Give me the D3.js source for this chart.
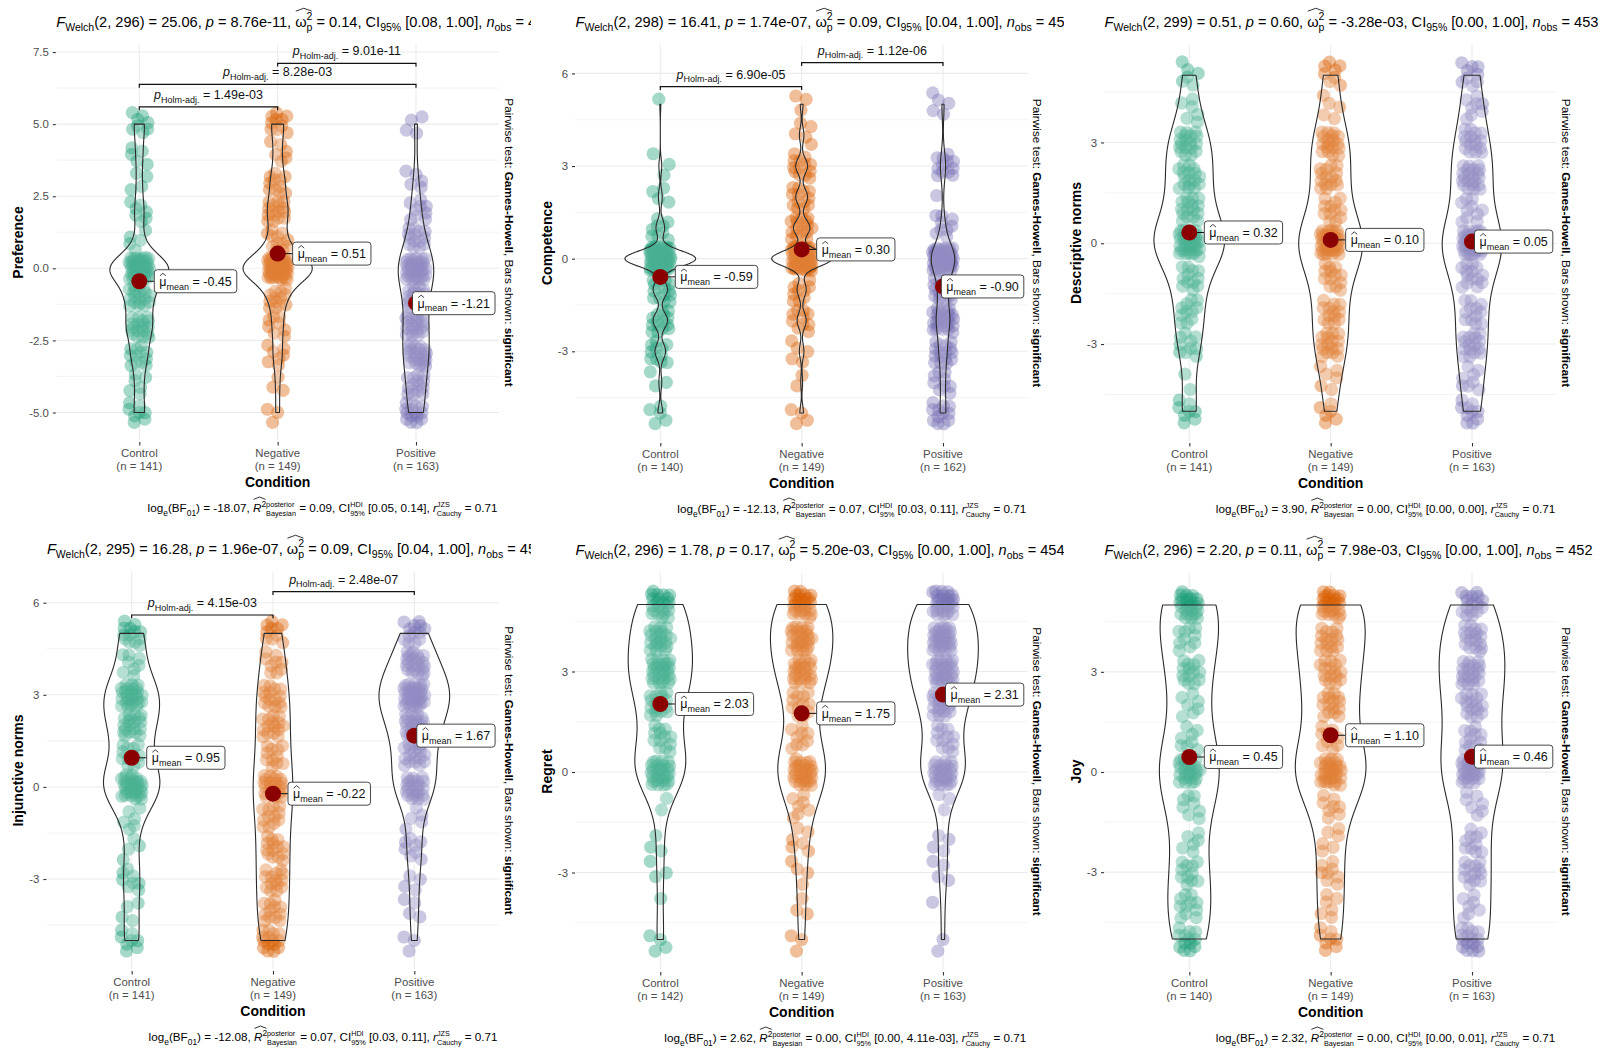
<!DOCTYPE html>
<html>
<head>
<meta charset="utf-8">
<script src="https://cdn.jsdelivr.net/npm/d3@7"></script>
<style>
  html, body { margin: 0; padding: 0; background: #fff; }
  svg { display: block; font-family: "Liberation Sans", Arial, Helvetica, sans-serif; }
  text { white-space: pre; }
</style>
</head>
<body>
<svg id="chart" width="1601" height="1050"></svg>
<script>
// ---------------------------------------------------------------
// Shared categories, response levels and palette
// ---------------------------------------------------------------
const CATEGORIES = ["Control", "Negative", "Positive"];
const LEVELS = [-5, -4, -3, -2, -1, 0, 1, 2, 3, 4, 5];
const PALETTE = ["#1B9E77", "#D95F02", "#7570B3"];

// Number of responses at each level (-5 … 5), per condition
const preferenceControl  = [8, 6, 12, 19, 19, 48, 5, 7, 4, 5, 8];
const preferenceNegative = [3, 3, 7, 8, 13, 60, 12, 16, 11, 6, 10];
const preferencePositive = [15, 15, 23, 21, 18, 39, 14, 9, 5, 0, 4];

const competenceControl  = [5, 3, 11, 15, 15, 74, 9, 4, 3, 0, 1];
const competenceNegative = [4, 2, 5, 10, 10, 66, 18, 13, 13, 5, 3];
const competencePositive = [12, 9, 16, 28, 18, 52, 9, 1, 12, 0, 5];

const descriptiveControl  = [8, 2, 10, 11, 12, 35, 16, 17, 18, 6, 6];
const descriptiveNegative = [6, 6, 16, 13, 13, 37, 12, 15, 18, 5, 8];
const descriptivePositive = [10, 8, 16, 12, 14, 39, 10, 21, 16, 8, 9];

const injunctiveControl  = [8, 4, 8, 4, 6, 32, 12, 19, 27, 8, 13];
const injunctiveNegative = [15, 12, 14, 14, 12, 22, 11, 15, 15, 9, 10];
const injunctivePositive = [3, 4, 4, 8, 5, 23, 18, 24, 38, 23, 13];

const regretControl  = [4, 1, 3, 3, 2, 28, 13, 17, 27, 22, 22];
const regretNegative = [3, 3, 4, 6, 7, 30, 9, 12, 23, 26, 26];
const regretPositive = [2, 1, 4, 4, 3, 27, 12, 22, 30, 31, 27];

const joyControl  = [13, 11, 11, 6, 8, 26, 8, 7, 14, 10, 26];
const joyNegative = [8, 6, 8, 6, 8, 31, 9, 15, 16, 16, 26];
const joyPositive = [16, 7, 13, 10, 7, 27, 12, 16, 21, 18, 16];

// Group means (Control, Negative, Positive)
const preferenceMeans  = [-0.45, 0.51, -1.21];
const competenceMeans  = [-0.59, 0.30, -0.90];
const descriptiveMeans = [0.32, 0.10, 0.05];
const injunctiveMeans  = [0.95, -0.22, 1.67];
const regretMeans      = [2.03, 1.75, 2.31];
const joyMeans         = [0.45, 1.10, 0.46];

// Welch ANOVA: df, F, p, omega squared, CI
const preferenceWelch  = ["2, 296", "25.06", "8.76e-11", "0.14", "[0.08, 1.00]"];
const competenceWelch  = ["2, 298", "16.41", "1.74e-07", "0.09", "[0.04, 1.00]"];
const descriptiveWelch = ["2, 299", "0.51", "0.60", "-3.28e-03", "[0.00, 1.00]"];
const injunctiveWelch  = ["2, 295", "16.28", "1.96e-07", "0.09", "[0.04, 1.00]"];
const regretWelch      = ["2, 296", "1.78", "0.17", "5.20e-03", "[0.00, 1.00]"];
const joyWelch         = ["2, 296", "2.20", "0.11", "7.98e-03", "[0.00, 1.00]"];

// Bayesian ANOVA: log BF01, R2, HDI
const preferenceBayes  = ["-18.07", "0.09", "[0.05, 0.14]"];
const competenceBayes  = ["-12.13", "0.07", "[0.03, 0.11]"];
const descriptiveBayes = ["3.90", "0.00", "[0.00, 0.00]"];
const injunctiveBayes  = ["-12.08", "0.07", "[0.03, 0.11]"];
const regretBayes      = ["2.62", "0.00", "[0.00, 4.11e-03]"];
const joyBayes         = ["2.32", "0.00", "[0.00, 0.01]"];

// Significant Games-Howell comparisons: [group a, group b, Holm-adjusted p]
const preferencePairs = [[0, 1, "1.49e-03"], [0, 2, "8.28e-03"], [1, 2, "9.01e-11"]];
const competencePairs = [[0, 1, "6.90e-05"], [1, 2, "1.12e-06"]];
const injunctivePairs = [[0, 1, "4.15e-03"], [1, 2, "2.48e-07"]];

// Y-axis ticks
const preferenceTicks = [-5, -2.5, 0, 2.5, 5, 7.5];
const preferenceTickLabels = ["-5.0", "-2.5", "0.0", "2.5", "5.0", "7.5"];
const wideTicks = [-3, 0, 3, 6];
const wideTickLabels = ["-3", "0", "3", "6"];
const narrowTicks = [-3, 0, 3];
const narrowTickLabels = ["-3", "0", "3"];

const panels = [
  { ylab: "Preference", groups: [preferenceControl, preferenceNegative, preferencePositive],
    means: preferenceMeans, welch: preferenceWelch, bayes: preferenceBayes, pairs: preferencePairs,
    ticks: preferenceTicks, tickLabels: preferenceTickLabels },
  { ylab: "Competence", groups: [competenceControl, competenceNegative, competencePositive],
    means: competenceMeans, welch: competenceWelch, bayes: competenceBayes, pairs: competencePairs,
    ticks: wideTicks, tickLabels: wideTickLabels },
  { ylab: "Descriptive norms", groups: [descriptiveControl, descriptiveNegative, descriptivePositive],
    means: descriptiveMeans, welch: descriptiveWelch, bayes: descriptiveBayes, pairs: [],
    ticks: narrowTicks, tickLabels: narrowTickLabels },
  { ylab: "Injunctive norms", groups: [injunctiveControl, injunctiveNegative, injunctivePositive],
    means: injunctiveMeans, welch: injunctiveWelch, bayes: injunctiveBayes, pairs: injunctivePairs,
    ticks: wideTicks, tickLabels: wideTickLabels },
  { ylab: "Regret", groups: [regretControl, regretNegative, regretPositive],
    means: regretMeans, welch: regretWelch, bayes: regretBayes, pairs: [],
    ticks: narrowTicks, tickLabels: narrowTickLabels },
  { ylab: "Joy", groups: [joyControl, joyNegative, joyPositive],
    means: joyMeans, welch: joyWelch, bayes: joyBayes, pairs: [],
    ticks: narrowTicks, tickLabels: narrowTickLabels }
];

// ---------------------------------------------------------------
// Layout of each panel (plot box, y range, extra placements)
// ---------------------------------------------------------------
const MINOR_QUARTER = [-3.75, -1.25, 1.25, 3.75, 6.25];
const MINOR_HALF = [-4.5, -1.5, 1.5, 4.5];
const layouts = [
  { left: 56.3,   right: 499,    top: 45,  bottom: 440, lo: -5.955, hi: 7.745, yTitleX: 18.3,   clip: [0, 531],      bracketY: [5.6, 6.38, 7.11], minor: MINOR_QUARTER },
  { left: 575.5,  right: 1027.8, top: 45,  bottom: 441, lo: -5.905, hi: 6.92,  yTitleX: 547.3,  clip: [534, 1064],   bracketY: [5.57, 6.35],      minor: MINOR_HALF },
  { left: 1104.5, right: 1556.8, top: 45,  bottom: 441, lo: -5.885, hi: 5.90,  yTitleX: 1076.3, clip: [1067, 1598],  bracketY: [],                minor: MINOR_HALF },
  { left: 46.9,   right: 499.1,  top: 572, bottom: 969, lo: -5.93,  hi: 7.0,   yTitleX: 18.3,   clip: [0, 531],      bracketY: [5.6, 6.36],       minor: MINOR_HALF },
  { left: 575.5,  right: 1027.8, top: 573, bottom: 970, lo: -5.91,  hi: 5.94,  yTitleX: 547.3,  clip: [534, 1064],   bracketY: [],                minor: MINOR_HALF },
  { left: 1104.5, right: 1556.8, top: 573, bottom: 970, lo: -5.93,  hi: 5.96,  yTitleX: 1076.3, clip: [1067, 1598],  bracketY: [],                minor: MINOR_HALF }
];

const GRID = "#EBEBEB";
const AXIS_TEXT = "#4D4D4D";
const POINT_R = 6.6;
const POINT_ALPHA = 0.4;
const JITTER_X = 0.075;   // fraction of category step (each side)
const JITTER_Y = 0.4;     // response units (each side)
const R2A = 0.7548776662466927, R2B = 0.5698402909980532;  // plastic-number sequence for jitter

const svg = d3.select("#chart");
const defs = svg.append("defs");

// ---------------------------------------------------------------
// Small rich-text layout: italics, bold, sub/superscripts, hats
// ---------------------------------------------------------------
function richText(parent, parts, o) {
  const size = o.size, fill = o.fill || "#000";
  const g = parent.append("g");
  let cx = 0;
  function put(txt, px, py, fs, p) {
    const t = g.append("text")
      .attr("x", px).attr("y", py)
      .attr("font-size", fs).attr("fill", fill)
      .attr("xml:space", "preserve")
      .text(txt);
    if (p.it) t.attr("font-style", "italic");
    if (p.b || o.bold) t.attr("font-weight", "bold");
    return t.node().getComputedTextLength();
  }
  function lay(list) {
    list.forEach(p => {
      if (p.hat) {
        const x0 = cx;
        lay(p.hat);
        const hy = (p.hy != null ? p.hy : -0.92) * size;
        g.append("path")
          .attr("d", `M${x0 + 0.6},${hy}L${(x0 + cx) / 2},${hy - size * 0.2}L${cx - 0.6},${hy}`)
          .attr("fill", "none").attr("stroke", fill).attr("stroke-width", 0.8);
      } else if (p.stack) {
        const fs = size * (p.fs || 0.62);
        const w1 = put(p.stack[0], cx, -size * 0.42, fs, p);
        const w2 = put(p.stack[1], cx, size * 0.3, fs, p);
        cx += Math.max(w1, w2);
      } else {
        const fs = (p.sub || p.sup) ? size * 0.72 : size;
        const dy = p.sub ? size * 0.3 : p.sup ? -size * 0.42 : 0;
        cx += put(p.t, cx, dy, fs, p);
      }
    });
  }
  lay(parts);
  const shift = o.anchor === "end" ? -cx : o.anchor === "middle" ? -cx / 2 : 0;
  g.attr("transform", `translate(${(o.x || 0) + shift},${o.y || 0})`);
  return { g, width: cx };
}

// Gaussian kernel density with Silverman's rule (nrd0)
function nrd0(values) {
  const sd = d3.deviation(values);
  const iqr = d3.quantile(values, 0.75) - d3.quantile(values, 0.25);
  let lo = Math.min(sd, iqr / 1.34);
  if (!(lo > 0)) lo = sd > 0 ? sd : 1;
  return 0.9 * lo * Math.pow(values.length, -0.2);
}
function densityCurve(counts) {
  const values = [];
  counts.forEach((c, i) => { for (let k = 0; k < c; k++) values.push(LEVELS[i]); });
  const n = values.length, bw = nrd0(values);
  const lo = d3.min(values), hi = d3.max(values);
  const grid = d3.range(512).map(i => lo + (hi - lo) * i / 511);
  const norm = 1 / (n * bw * Math.sqrt(2 * Math.PI));
  return grid.map(yv => {
    let s = 0;
    counts.forEach((c, i) => {
      if (!c) return;
      const z = (yv - LEVELS[i]) / bw;
      s += c * Math.exp(-0.5 * z * z);
    });
    return [yv, s * norm];
  });
}

// ---------------------------------------------------------------
// Draw one panel
// ---------------------------------------------------------------
function drawPanel(P, L, pi) {
  const g = svg.append("g");
  const x = d3.scalePoint().domain(CATEGORIES).range([L.left, L.right]).padding(0.6);
  const y = d3.scaleLinear().domain([L.lo, L.hi]).range([L.bottom, L.top]);
  const step = x.step();
  const midY = (L.top + L.bottom) / 2;

  // grid
  const grid = g.append("g");
  grid.selectAll(".minor").data(L.minor.filter(v => v > L.lo && v < L.hi)).join("line")
    .attr("x1", L.left).attr("x2", L.right)
    .attr("y1", d => y(d)).attr("y2", d => y(d))
    .attr("stroke", GRID).attr("stroke-width", 0.6);
  grid.selectAll(".major").data(P.ticks).join("line")
    .attr("x1", L.left).attr("x2", L.right)
    .attr("y1", d => y(d)).attr("y2", d => y(d))
    .attr("stroke", GRID).attr("stroke-width", 1.1);
  grid.selectAll(".vert").data(CATEGORIES).join("line")
    .attr("x1", d => x(d)).attr("x2", d => x(d))
    .attr("y1", L.top).attr("y2", L.bottom)
    .attr("stroke", GRID).attr("stroke-width", 1.1);

  // y axis
  const yAxis = g.append("g").attr("transform", `translate(${L.left - 0.5},0)`)
    .call(d3.axisLeft(y).tickValues(P.ticks).tickFormat((d, i) => P.tickLabels[i]).tickSize(3).tickPadding(4));
  yAxis.select(".domain").remove();
  yAxis.selectAll(".tick line").attr("stroke", "#333").attr("stroke-width", 1.1);
  yAxis.selectAll(".tick text").attr("fill", AXIS_TEXT).attr("font-size", 11.4)
    .attr("font-family", "Liberation Sans, Arial, sans-serif");

  // x axis
  const xAxis = g.append("g").attr("transform", `translate(0,${L.bottom + 2})`)
    .call(d3.axisBottom(x).tickSize(3.5).tickFormat(""));
  xAxis.select(".domain").remove();
  xAxis.selectAll(".tick line").attr("stroke", "#333").attr("stroke-width", 1.1);

  P.groups.forEach((counts, gi) => {
    const cx = x(CATEGORIES[gi]);
    const n = d3.sum(counts);
    g.append("text").attr("x", cx).attr("y", L.bottom + 17)
      .attr("text-anchor", "middle").attr("font-size", 11.4).attr("fill", AXIS_TEXT)
      .text(CATEGORIES[gi]);
    g.append("text").attr("x", cx).attr("y", L.bottom + 30)
      .attr("text-anchor", "middle").attr("font-size", 11.4).attr("fill", AXIS_TEXT)
      .text(`(n = ${n})`);
  });

  g.append("text").attr("x", (L.left + L.right) / 2).attr("y", L.bottom + 47)
    .attr("text-anchor", "middle").attr("font-size", 14).attr("font-weight", "bold")
    .text("Condition");

  // y title
  g.append("text")
    .attr("transform", `translate(${L.yTitleX + 5},${midY}) rotate(-90)`)
    .attr("text-anchor", "middle").attr("font-size", 14).attr("font-weight", "bold")
    .text(P.ylab);

  // jittered points
  const pts = g.append("g");
  P.groups.forEach((counts, gi) => {
    const cx = x(CATEGORIES[gi]);
    const rows = [];
    let k = 0;
    counts.forEach((c, li) => {
      for (let j = 0; j < c; j++, k++) {
        const jx = ((k * R2A + 0.5) % 1) - 0.5;
        const jy = ((k * R2B + 0.5) % 1) - 0.5;
        rows.push({ v: LEVELS[li], jx, jy });
      }
    });
    pts.selectAll(null).data(rows).join("circle")
      .attr("cx", d => cx + d.jx * 2 * JITTER_X * step)
      .attr("cy", d => y(d.v + d.jy * 2 * JITTER_Y))
      .attr("r", POINT_R)
      .attr("fill", PALETTE[gi]).attr("fill-opacity", POINT_ALPHA);
  });

  // violins (equal-area scaling within the panel)
  const curves = P.groups.map(densityCurve);
  const maxD = d3.max(curves, c => d3.max(c, d => d[1]));
  const halfMax = 0.25 * step;
  const line = d3.line().x(d => d[0]).y(d => d[1]);
  curves.forEach((c, gi) => {
    const cx = x(CATEGORIES[gi]);
    const right = c.map(d => [cx + d[1] / maxD * halfMax, y(d[0])]);
    const left = c.slice().reverse().map(d => [cx - d[1] / maxD * halfMax, y(d[0])]);
    g.append("path").attr("d", line(right.concat(left)) + "Z")
      .attr("fill", "#fff").attr("fill-opacity", 0.2)
      .attr("stroke", "#2a2a2a").attr("stroke-width", 1.1).attr("stroke-linejoin", "round");
  });

  // mean markers and labels
  P.means.forEach((m, gi) => {
    const mx = x(CATEGORIES[gi]), my = y(m);
    const lab = g.append("g");
    const rt = richText(lab, [
      { hat: [{ t: "μ" }], hy: -0.8 },
      { t: "mean", sub: 1 },
      { t: ` = ${m.toFixed(2)}` }
    ], { size: 12.5, fill: "#111" });
    const boxW = rt.width + 10;
    const bx = Math.min(mx + 15, L.right - 4 - boxW);
    lab.insert("rect", ":first-child")
      .attr("x", -5).attr("y", -16).attr("width", boxW).attr("height", 23).attr("rx", 3)
      .attr("fill", "#fff").attr("stroke", "#333").attr("stroke-width", 0.9);
    lab.attr("transform", `translate(${bx + 5},${my + 4.5})`);
    g.insert("line", () => lab.node())
      .attr("x1", mx).attr("x2", bx).attr("y1", my).attr("y2", my)
      .attr("stroke", "#111").attr("stroke-width", 1);
    g.insert("circle", () => lab.node())
      .attr("cx", mx).attr("cy", my).attr("r", 8).attr("fill", "#8B0000");
  });

  // significance brackets
  P.pairs.forEach((pr, bi) => {
    const x1 = x(CATEGORIES[pr[0]]), x2 = x(CATEGORIES[pr[1]]);
    const yb = y(L.bracketY[bi]);
    g.append("path").attr("d", `M${x1},${yb + 3.3}V${yb}H${x2}V${yb + 3.3}`)
      .attr("fill", "none").attr("stroke", "#111").attr("stroke-width", 1.2);
    richText(g, [
      { t: "p", it: 1 }, { t: "Holm-adj.", sub: 1 }, { t: ` = ${pr[2]}` }
    ], { size: 12.5, x: (x1 + x2) / 2, y: yb - 8, anchor: "middle", fill: "#111" });
  });

  // right-hand note
  const rg = g.append("g").attr("transform", `translate(${L.right + 5.5},${midY}) rotate(90)`);
  richText(rg, [
    { t: "Pairwise test: " }, { t: "Games-Howell", b: 1 },
    { t: ", Bars shown: " }, { t: "significant", b: 1 }
  ], { size: 11.8, anchor: "middle" });

  // title (clipped to the column)
  const clipId = "clip" + pi;
  defs.append("clipPath").attr("id", clipId).append("rect")
    .attr("x", L.clip[0]).attr("y", L.top - 45).attr("width", L.clip[1] - L.clip[0]).attr("height", 44);
  const tg = g.append("g").attr("clip-path", `url(#${clipId})`);
  const nObs = d3.sum(P.groups, c => d3.sum(c));
  const w = P.welch;
  richText(tg, [
    { t: "F", it: 1 }, { t: "Welch", sub: 1 }, { t: `(${w[0]}) = ${w[1]}, ` },
    { t: "p", it: 1 }, { t: ` = ${w[2]}, ` },
    { hat: [{ t: "ω" }, { stack: ["2", "p"], fs: 0.72 }], hy: -1.05 },
    { t: ` = ${w[3]}, CI` }, { t: "95%", sub: 1 }, { t: ` ${w[4]}, ` },
    { t: "n", it: 1 }, { t: "obs", sub: 1 }, { t: ` = ${nObs}` }
  ], { size: 14.6, x: L.left, y: L.top - 18.5 });

  // caption
  const b = P.bayes;
  richText(g, [
    { t: "log" }, { t: "e", sub: 1 }, { t: "(BF" }, { t: "01", sub: 1 }, { t: `) = ${b[0]}, ` },
    { hat: [{ t: "R", it: 1 }, { t: "2", sup: 1 }], hy: -1.08 },
    { stack: ["posterior", "Bayesian"] },
    { t: ` = ${b[1]}, CI` }, { stack: ["HDI", "95%"] }, { t: ` ${b[2]}, ` },
    { t: "r", it: 1 }, { stack: ["JZS", "Cauchy"] }, { t: " = 0.71" }
  ], { size: 11.7, x: L.right - 1.5, y: L.bottom + 72, anchor: "end" });
}

panels.forEach((P, i) => drawPanel(P, layouts[i], i));
</script>
</body>
</html>
